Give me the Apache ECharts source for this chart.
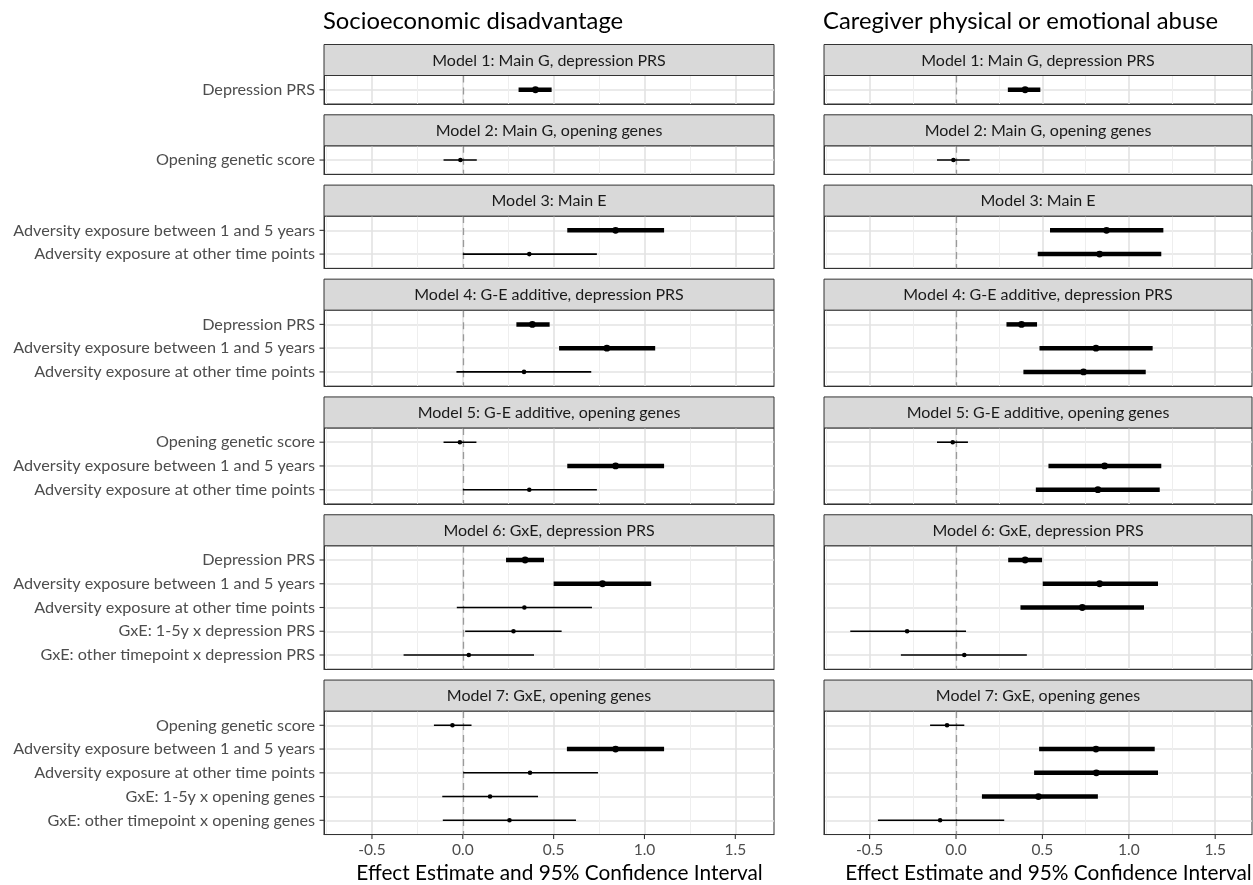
<!DOCTYPE html>
<html>
<head>
<meta charset="utf-8">
<script src="https://cdn.jsdelivr.net/npm/echarts@6/dist/echarts.min.js"></script>
<style>
  html, body { margin: 0; padding: 0; background: #fff; }
  #chart { width: 1253px; height: 885px; }
</style>
</head>
<body>
<div id="chart"></div>
<script>
// column titles and facet strips
const panelTitles = ['Socioeconomic disadvantage', 'Caregiver physical or emotional abuse'];
const modelTitles = [
  'Model 1: Main G, depression PRS',
  'Model 2: Main G, opening genes',
  'Model 3: Main E',
  'Model 4: G-E additive, depression PRS',
  'Model 5: G-E additive, opening genes',
  'Model 6: GxE, depression PRS',
  'Model 7: GxE, opening genes'
];
const modelTerms = [
  ['Depression PRS'],
  ['Opening genetic score'],
  ['Adversity exposure between 1 and 5 years', 'Adversity exposure at other time points'],
  ['Depression PRS', 'Adversity exposure between 1 and 5 years', 'Adversity exposure at other time points'],
  ['Opening genetic score', 'Adversity exposure between 1 and 5 years', 'Adversity exposure at other time points'],
  ['Depression PRS', 'Adversity exposure between 1 and 5 years', 'Adversity exposure at other time points',
   'GxE: 1-5y x depression PRS', 'GxE: other timepoint x depression PRS'],
  ['Opening genetic score', 'Adversity exposure between 1 and 5 years', 'Adversity exposure at other time points',
   'GxE: 1-5y x opening genes', 'GxE: other timepoint x opening genes']
];
const xTicks = [-0.5, 0, 0.5, 1, 1.5];
const xRange = [-0.764, 1.713];
const xTitle = 'Effect Estimate and 95% Confidence Interval';

// socioeconomic disadvantage
const sesEst = [[0.40], [-0.013], [0.841, 0.366], [0.383, 0.793, 0.337], [-0.016, 0.841, 0.366],
  [0.343, 0.769, 0.339, 0.279, 0.033], [-0.057, 0.841, 0.37, 0.150, 0.257]];
const sesLow = [[0.307], [-0.106], [0.575, 0.0], [0.295, 0.53, -0.035], [-0.106, 0.575, 0.0],
  [0.238, 0.50, -0.033, 0.013, -0.326], [-0.159, 0.573, 0.002, -0.113, -0.110]];
const sesHigh = [[0.489], [0.077], [1.108, 0.738], [0.478, 1.059, 0.707], [0.075, 1.108, 0.738],
  [0.447, 1.037, 0.711, 0.544, 0.392], [0.048, 1.108, 0.744, 0.414, 0.623]];
const sesSig = [[1], [0], [1, 0], [1, 1, 0], [0, 1, 0], [1, 1, 0, 0, 0], [0, 1, 0, 0, 0]];

// caregiver physical or emotional abuse
const abuseEst = [[0.40], [-0.015], [0.871, 0.831], [0.379, 0.81, 0.738], [-0.019, 0.86, 0.821],
  [0.40, 0.831, 0.731, -0.283, 0.048], [-0.052, 0.81, 0.812, 0.477, -0.092]];
const abuseLow = [[0.30], [-0.11], [0.544, 0.473], [0.292, 0.483, 0.39], [-0.11, 0.535, 0.462],
  [0.302, 0.502, 0.373, -0.612, -0.319], [-0.15, 0.481, 0.452, 0.15, -0.452]];
const abuseHigh = [[0.488], [0.079], [1.2, 1.188], [0.469, 1.138, 1.098], [0.069, 1.188, 1.179],
  [0.498, 1.169, 1.088, 0.058, 0.41], [0.048, 1.15, 1.169, 0.821, 0.279]];
const abuseSig = [[1], [0], [1, 1], [1, 1, 1], [0, 1, 1], [1, 1, 1, 0, 0], [0, 1, 1, 1, 0]];

const columns = [
  { est: sesEst, low: sesLow, high: sesHigh, sig: sesSig },
  { est: abuseEst, low: abuseLow, high: abuseHigh, sig: abuseSig }
];

const font = 'Lato';
const colLeft = [324, 824];
const colRight = [774, 1252];
const stripTop0 = 44.5, stripH = 31, gapH = 10.8, rowU = 23.75;
const axisLn = { show: true, onZero: false, lineStyle: { color: '#333', width: 1 } };

const grids = [], xAxes = [], yAxes = [], series = [], graphics = [];
const gridInfo = []; // which column / facet each grid is, for the tick marks

// titles
panelTitles.forEach((t, c) => {
  graphics.push({
    type: 'text', x: colLeft[c] - 1, y: 21,
    style: { text: t, fontSize: 23.8, fontFamily: font, fill: '#000', textVerticalAlign: 'middle' }
  });
});

let y = stripTop0;
modelTitles.forEach((title, i) => {
  const n = modelTerms[i].length;
  const stripY = y;
  const panelTop = y + stripH;
  const panelH = (n + 0.2) * rowU;
  y = panelTop + panelH + gapH;
  const isBottom = i === modelTitles.length - 1;

  for (let c = 0; c < 2; c++) {
    const gi = grids.length;
    const w = colRight[c] - colLeft[c];
    gridInfo.push({ c: c, n: n, isBottom: isBottom });
    grids.push({
      left: colLeft[c], top: panelTop, width: w, height: panelH,
      outerBoundsMode: 'none', containLabel: false,
      show: true, borderColor: '#333', borderWidth: 1, backgroundColor: '#fff'
    });
    // strip
    graphics.push({
      type: 'rect', shape: { x: colLeft[c], y: stripY, width: w, height: stripH },
      style: { fill: '#d9d9d9', stroke: '#333', lineWidth: 1 }, z: 10
    });
    graphics.push({
      type: 'text', x: colLeft[c] + w / 2, y: stripY + stripH / 2 + 0.5, z: 11,
      style: { text: title, fontSize: 16, fontFamily: font, fill: '#1a1a1a',
        textAlign: 'center', textVerticalAlign: 'middle' }
    });

    xAxes.push({
      type: 'value', gridIndex: gi, position: 'bottom', min: xRange[0], max: xRange[1],
      minInterval: 0.5, maxInterval: 0.5,
      axisLine: axisLn,
      splitLine: { show: true, showMinLine: false, showMaxLine: false,
        lineStyle: { color: '#e3e3e3', width: 1.6 } },
      minorTick: { show: false, splitNumber: 2 },
      minorSplitLine: { show: true, lineStyle: { color: '#eeeeee', width: 1 } },
      axisTick: { show: false },
      axisLabel: { show: isBottom, customValues: xTicks, margin: 7,
        formatter: v => v.toFixed(1), color: '#4d4d4d', fontSize: 15.5, fontFamily: font },
      name: isBottom ? xTitle : '', nameLocation: 'middle', nameGap: 28,
      nameTextStyle: { fontSize: 20.8, color: '#000', fontFamily: font, padding: [0, 0, 0, 21] }
    });

    const idx = modelTerms[i].map((_, k) => k + 1);
    yAxes.push({
      type: 'value', gridIndex: gi, position: 'left', inverse: true, min: 0.4, max: n + 0.6,
      minInterval: 1, maxInterval: 1,
      axisLine: axisLn,
      splitLine: { show: true, showMinLine: false, showMaxLine: false,
        lineStyle: { color: '#e3e3e3', width: 1.6 } },
      axisTick: { show: false },
      axisLabel: { show: c === 0, customValues: idx, margin: 9,
        formatter: v => modelTerms[i][Math.round(v) - 1] || '',
        color: '#4d4d4d', fontSize: 16.2, fontFamily: font }
    });

    const col = columns[c];
    const data = col.est[i].map((e, k) => [e, col.low[i][k], col.high[i][k], k + 1, col.sig[i][k]]);
    series.push({
      type: 'custom', xAxisIndex: gi, yAxisIndex: gi, z: 5,
      encode: { x: [0, 1, 2], y: 3 },
      data: data,
      renderItem: (params, api) => {
        const yy = api.value(3);
        const p0 = api.coord([api.value(1), yy]);
        const p1 = api.coord([api.value(2), yy]);
        const pc = api.coord([api.value(0), yy]);
        const thick = api.value(4) === 1;
        return {
          type: 'group', children: [
            { type: 'line', shape: { x1: p0[0], y1: p0[1], x2: p1[0], y2: p1[1] },
              style: { stroke: '#000', lineWidth: thick ? 4.5 : 1.6 } },
            { type: 'circle', shape: { cx: pc[0], cy: pc[1], r: thick ? 3.4 : 2.3 },
              style: { fill: '#000' } }
          ]
        };
      },
      markLine: {
        silent: true, symbol: 'none', label: { show: false },
        lineStyle: { color: '#9a9a9a', type: [7, 5], width: 1.3 },
        data: [{ xAxis: 0 }]
      }
    });
  }
});

const chart = echarts.init(document.getElementById('chart'), null, { renderer: 'canvas' });
chart.setOption({
  animation: false,
  backgroundColor: '#fff',
  grid: grids,
  xAxis: xAxes,
  yAxis: yAxes,
  series: series,
  graphic: graphics
});

// short tick marks outside the panels, placed through the axes' own scales
const tickMarks = [];
gridInfo.forEach((g, gi) => {
  if (g.c === 0) {
    for (let k = 1; k <= g.n; k++) {
      const p = chart.convertToPixel({ gridIndex: gi }, [xRange[0], k]);
      if (!p) continue;
      tickMarks.push({ type: 'line', z: 12, silent: true,
        shape: { x1: p[0] - 4.5, y1: p[1], x2: p[0], y2: p[1] },
        style: { stroke: '#333', lineWidth: 1.1 } });
    }
  }
  if (g.isBottom) {
    xTicks.forEach(v => {
      const p = chart.convertToPixel({ gridIndex: gi }, [v, g.n + 0.6]);
      if (!p) return;
      tickMarks.push({ type: 'line', z: 12, silent: true,
        shape: { x1: p[0], y1: p[1], x2: p[0], y2: p[1] + 4.5 },
        style: { stroke: '#333', lineWidth: 1.1 } });
    });
  }
});
chart.setOption({ graphic: graphics.concat(tickMarks) });
</script>
</body>
</html>
